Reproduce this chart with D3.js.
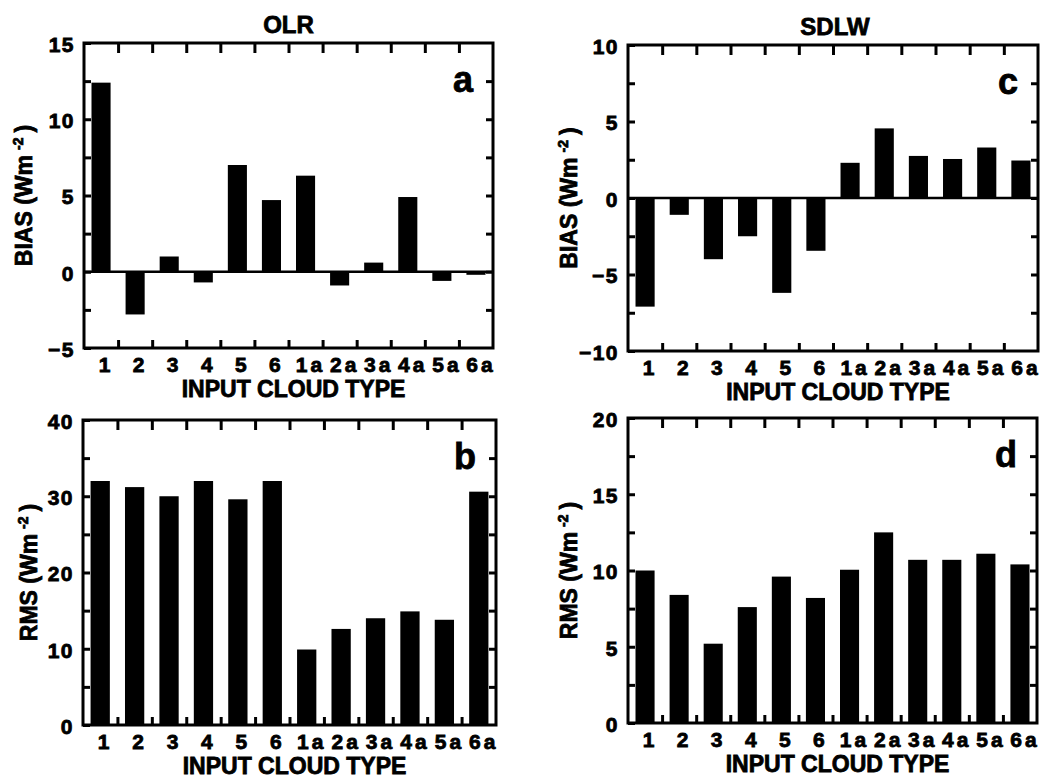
<!DOCTYPE html>
<html><head><meta charset="utf-8">
<script src="https://cdn.jsdelivr.net/npm/d3@7"></script>
<style>
body{margin:0;background:#fff}
svg{display:block}
text{font-family:"Liberation Sans",Arial,Helvetica,sans-serif;font-weight:bold;fill:#000;stroke:#000;stroke-width:0.8px}
</style></head>
<body><svg id="chart" width="1040" height="778"></svg>
<script>
// ---- data ----
const categories = ["1","2","3","4","5","6","1a","2a","3a","4a","5a","6a"];
const olrBias  = [12.4, -2.8, 1.0, -0.7, 7.0, 4.7, 6.3, -0.9, 0.6, 4.9, -0.6, -0.2];
const olrRms   = [32.0, 31.2, 30.0, 32.0, 29.6, 32.0, 9.9, 12.6, 14.0, 14.9, 13.8, 30.6];
const sdlwBias = [-7.1, -1.1, -4.0, -2.5, -6.2, -3.45, 2.3, 4.55, 2.75, 2.55, 3.3, 2.45];
const sdlwRms  = [10.0, 8.4, 5.2, 7.6, 9.6, 8.2, 10.05, 12.5, 10.7, 10.7, 11.1, 10.4];
const columnTitles = ["OLR", "SDLW"];
const panelLetters = ["a", "b", "c", "d"];
const xTitle = "INPUT CLOUD TYPE";
const biasTicks = { a: [-5, 0, 5, 10, 15], c: [-10, -5, 0, 5, 10] };
const rmsTicks  = { b: [0, 10, 20, 30, 40], d: [0, 5, 10, 15, 20] };

const svg = d3.select("#chart");

const panels = [
  {letter:"a", values:olrBias,  domain:[-5,15],  labels:biasTicks.a, minor:2.5, ylab:"BIAS", box:[84,493,43,348],  ytOff:52},
  {letter:"b", values:olrRms,   domain:[0,40],   labels:rmsTicks.b,  minor:5,   ylab:"RMS",  box:[83,496,420,725], ytOff:46},
  {letter:"c", values:sdlwBias, domain:[-10,10], labels:biasTicks.c, minor:2.5, ylab:"BIAS", box:[628,1038,45,351], ytOff:51},
  {letter:"d", values:sdlwRms,  domain:[0,20],   labels:rmsTicks.d,  minor:2.5, ylab:"RMS",  box:[628,1037,418,723],ytOff:51}
];

const FONT = '"Liberation Sans",Arial,Helvetica,sans-serif';

panels.forEach(p => {
  const [x0,x1,y0,y1] = p.box;
  const g = svg.append("g");
  const x = d3.scaleBand().domain(categories).range([x0,x1]).paddingInner(0.44).paddingOuter(0.22);
  const xb = d3.scaleLinear().domain([0, categories.length]).range([x0,x1]);
  const y = d3.scaleLinear().domain(p.domain).range([y1,y0]);
  const allTicks = d3.range(p.domain[0], p.domain[1] + 1e-9, p.minor);
  const inner = allTicks.filter(v => v > p.domain[0] && v < p.domain[1]);
  const bounds = d3.range(1, categories.length);

  // bars
  g.selectAll("rect.bar").data(p.values).join("rect")
    .attr("class","bar")
    .attr("x", (d,i) => x(categories[i]))
    .attr("width", x.bandwidth())
    .attr("y", d => y(Math.max(0,d)))
    .attr("height", d => Math.abs(y(d) - y(0)))
    .attr("fill","#000");

  // zero line
  if (p.domain[0] < 0) {
    g.append("line").attr("x1",x0).attr("x2",x1).attr("y1",y(0)).attr("y2",y(0))
      .attr("stroke","#000").attr("stroke-width",2.5);
  }

  const styleAxis = sel => {
    sel.attr("font-family", FONT).attr("font-size", 21);
    sel.select(".domain").remove();
    sel.selectAll(".tick line").attr("stroke","#000").attr("stroke-width",3);
    sel.selectAll("text").style("font-size","21px").style("font-family",FONT).style("font-weight","bold");
  };

  // left axis: inward ticks, labels at majors
  g.append("g").attr("transform",`translate(${x0},0)`)
    .call(d3.axisLeft(y).tickValues(allTicks).tickSize(-7).tickPadding(9)
      .tickFormat(v => p.labels.some(l => Math.abs(l - v) < 1e-9) ? d3.format("d")(v) : ""))
    .call(styleAxis)
    .call(s => s.selectAll("text").attr("letter-spacing","1.5px").attr("dy","0.4em"));
  // right axis: inward ticks
  g.append("g").attr("transform",`translate(${x1},0)`)
    .call(d3.axisRight(y).tickValues(inner).tickSize(-7).tickFormat(""))
    .call(styleAxis);
  // top ticks at category boundaries
  g.append("g").attr("transform",`translate(0,${y0})`)
    .call(d3.axisTop(xb).tickValues(bounds).tickSize(-10).tickFormat(""))
    .call(styleAxis);
  // bottom ticks at category boundaries
  g.append("g").attr("transform",`translate(0,${y1})`)
    .call(d3.axisBottom(xb).tickValues(bounds).tickSize(-8).tickFormat(""))
    .call(styleAxis);
  // bottom category labels
  g.append("g").attr("transform",`translate(5,${y1})`)
    .call(d3.axisBottom(x).tickSize(0).tickPadding(9))
    .call(styleAxis)
    .call(s => s.selectAll("text").attr("letter-spacing","3px"));

  // frame
  g.append("rect").attr("x",x0).attr("y",y0).attr("width",x1-x0).attr("height",y1-y0)
    .attr("fill","none").attr("stroke","#000").attr("stroke-width",3);

  // x title
  g.append("text").attr("x",(x0+x1)/2 + 5).attr("y",y1+49)
    .attr("text-anchor","middle").style("font-size","23px").text(xTitle);

  // y title
  const yt = g.append("text")
    .attr("transform",`translate(${x0 - p.ytOff},${(y0+y1)/2}) rotate(-90)`)
    .attr("text-anchor","middle").style("font-size","23px");
  yt.append("tspan").text(p.ylab + " (Wm");
  yt.append("tspan").attr("dx",5).attr("dy",-9).style("font-size","14px").text("-2");
  yt.append("tspan").attr("dx",5).attr("dy",9).text(")");

  // panel letter
  g.append("text").attr("x",x1-20).attr("y",y0+49).attr("text-anchor","end")
    .style("font-size","36px").text(p.letter);
});

// column titles
svg.append("text").attr("x",(84+493)/2).attr("y",33).attr("text-anchor","middle")
  .style("font-size","24px").text(columnTitles[0]);
svg.append("text").attr("x",(628+1038)/2 + 2).attr("y",35).attr("text-anchor","middle")
  .style("font-size","24px").text(columnTitles[1]);
</script></body></html>
